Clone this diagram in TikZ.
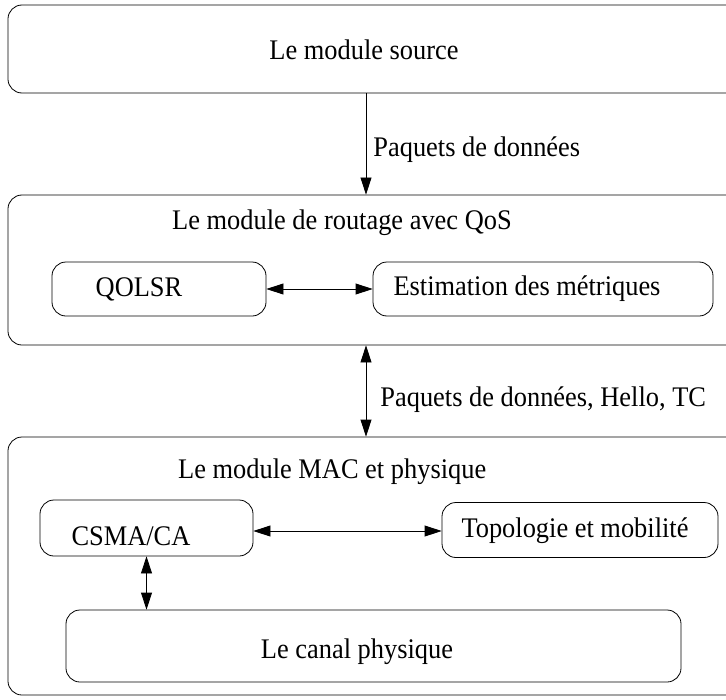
\documentclass[tikz,border=0pt]{standalone}
\usepackage{fontspec}
\setmainfont{Liberation Serif}[FakeStretch=0.93]
\usetikzlibrary{arrows.meta,positioning}

\begin{document}
\begin{tikzpicture}[x=1bp,y=-1bp,
  box/.style={draw,rounded corners=14bp,line width=0.8bp,inner sep=0pt},
  lbl/.style={font=\fontsize{28.5}{32}\selectfont,inner sep=0pt},
  link/.style={line width=0.8bp,-{Triangle[length=17bp,width=11bp]}},
  both/.style={line width=0.8bp,{Triangle[length=17bp,width=11bp]}-{Triangle[length=17bp,width=11bp]}}]
  \useasboundingbox (0,0) rectangle (726,700);
  \clip (0,0) rectangle (726,700);
  % source module
  \node[box,minimum width=740bp,minimum height=88bp] (src) at (378,49) {};
  \node[lbl] (srclbl) at (364,50) {Le module source};
  % routing module with QoS
  \node[box,minimum width=740bp,minimum height=150bp] (rout) at (378,270) {};
  \node[lbl,anchor=west] (routlbl) at (172,223) {Le module de routage avec QoS};
  \node[box,minimum width=214bp,minimum height=54bp] (qolsr) at (159,289) {};
  \node[lbl] (qolsrlbl) at (139,289) {QOLSR};
  \node[box,minimum width=340bp,minimum height=54bp] (metr) at (543,289) {};
  \node[lbl] (metrlbl) at (527,289) {Estimation des métriques};
  % MAC and physical module
  \node[box,minimum width=740bp,minimum height=258bp] (mac) at (378,566) {};
  \node[lbl,anchor=west] (maclbl) at (178,472) {Le module MAC et physique};
  \node[box,minimum width=213bp,minimum height=56bp] (csma) at (146.5,528) {};
  \node[lbl] (csmalbl) at (131,536) {CSMA/CA};
  \node[box,minimum width=276bp,minimum height=55bp] (topo) at (580,530) {};
  \node[lbl] (topolbl) at (575,531) {Topologie et mobilité};
  \node[box,minimum width=615bp,minimum height=72bp] (canal) at (373.5,646) {};
  \node[lbl] (canallbl) at (357,652) {Le canal physique};
  % connectors
  \coordinate (ax) at (366,0);
  \draw[link] (src.south -| ax) -- (rout.north -| ax)
    node[lbl,pos=0.56,right=7bp] {Paquets de données};
  \draw[both] (rout.south -| ax) -- (mac.north -| ax)
    node[lbl,pos=0.6,right=14bp] {Paquets de données, Hello, TC};
  \draw[both] (qolsr.east) -- (metr.west);
  \draw[both] (csma.east |- topolbl) -- (topo.west |- topolbl);
  \draw[both] (csma.south) -- (canal.north -| csma.south);
\end{tikzpicture}
\end{document}
